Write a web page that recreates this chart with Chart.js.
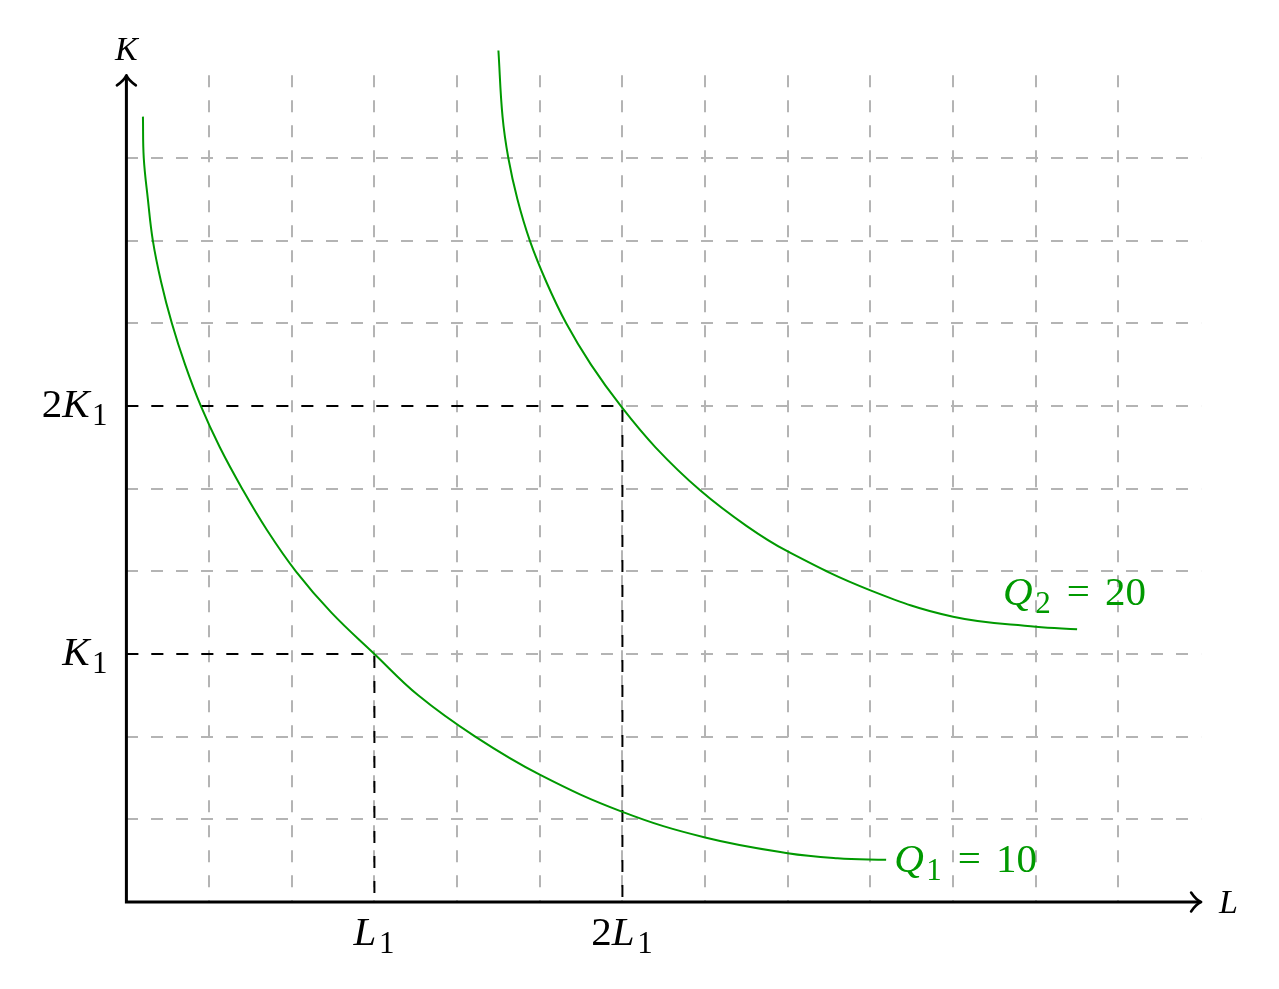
<!DOCTYPE html>
<html>
<head>
<meta charset="utf-8">
<script src="https://cdn.jsdelivr.net/npm/chart.js@4.4.1/dist/chart.umd.min.js"></script>
<style>
  html, body { margin: 0; padding: 0; background: #ffffff; }
  #wrap { width: 1279px; height: 989px; }
</style>
</head>
<body>
<div id="wrap"><canvas id="c" width="1279" height="989"></canvas></div>
<script>
// ---- data ----
const xMax = 13;           // L axis extent (grid units)
const yMax = 10;           // K axis extent (grid units)

const q1L = [0.20, 0.21, 0.26, 0.32, 0.42, 0.55, 0.71, 0.90, 1.13, 1.40, 1.70, 2.05, 2.48, 3.00, 3.53, 4.22, 5.00, 6.00, 7.00, 8.00, 8.60, 9.19];
const q1K = [9.50, 9.00, 8.50, 8.00, 7.50, 7.00, 6.50, 6.00, 5.50, 5.00, 4.50, 4.00, 3.50, 3.00, 2.50, 2.00, 1.54, 1.09, 0.78, 0.59, 0.53, 0.51];

const q2L = [4.50, 4.55, 4.62, 4.73, 4.88, 5.08, 5.32, 5.62, 5.98, 6.40, 6.94, 7.50, 8.00, 9.00, 10.00, 11.00, 11.50];
const q2K = [10.30, 9.50, 9.00, 8.50, 8.00, 7.50, 7.00, 6.50, 6.00, 5.50, 4.98, 4.55, 4.24, 3.77, 3.45, 3.33, 3.30];

const curveLabels = ['Q_1 = 10', 'Q_2 = 20'];

// reference (dashed) levels
const refL = [3, 6];
const refK = [3, 6];

// tick labels
const xTickValues = [3, 6];
const xTickLabels = ['L_1', '2L_1'];
const yTickValues = [3, 6];
const yTickLabels = ['K_1', '2K_1'];

const xAxisTitle = 'L';
const yAxisTitle = 'K';

// ---- styles ----
const GREEN = '#009900';
const GRID = 'rgb(180,180,180)';
const SERIF = '"Liberation Serif", "DejaVu Serif", serif';

function pts(xs, ys) { return xs.map((x, i) => ({ x: x, y: ys[i] })); }
function refPts(i) { return [{ x: 0, y: refK[i] }, { x: refL[i], y: refK[i] }, { x: refL[i], y: 0 }]; }

// simple math-like text: letters italic, digits/symbols upright, _x subscript
function mathRuns(str) {
  const runs = [];
  for (let i = 0; i < str.length; i++) {
    const ch = str[i];
    if (ch === '_') { runs.push({ t: str[i + 1], sub: true, it: false }); i++; continue; }
    runs.push({ t: ch, sub: false, it: /[A-Za-z]/.test(ch), sp: ch === ' ' });
  }
  return runs;
}
function runFont(r, size) {
  const s = r.sub ? Math.round(size * 0.76) : size;
  return (r.it ? 'italic ' : '') + s + 'px ' + SERIF;
}
function runAdvance(ctx, r, size) {
  if (r.sp) return size * 0.37;
  ctx.font = runFont(r, size);
  return ctx.measureText(r.t).width + (r.it ? size * 0.06 : 0) + (r.sub ? size * 0.02 : 0);
}
function mathWidth(ctx, str, size) {
  let w = 0;
  for (const r of mathRuns(str)) w += runAdvance(ctx, r, size);
  return w;
}
function drawMath(ctx, str, x, baseline, size, align, color) {
  const w = mathWidth(ctx, str, size);
  let cx = align === 'center' ? x - w / 2 : align === 'right' ? x - w : x;
  ctx.fillStyle = color;
  ctx.textBaseline = 'alphabetic';
  ctx.textAlign = 'left';
  for (const r of mathRuns(str)) {
    const adv = runAdvance(ctx, r, size);
    if (!r.sp) {
      ctx.font = runFont(r, size);
      ctx.fillText(r.t, cx, baseline + (r.sub ? size * 0.2 : 0));
    }
    cx += adv;
  }
}

const decor = {
  id: 'decor',
  afterDatasetsDraw(chart) {
    const ctx = chart.ctx;
    const xs = chart.scales.x, ys = chart.scales.y;
    const x0 = xs.getPixelForValue(0), y0 = ys.getPixelForValue(0);
    const xe = xs.getPixelForValue(xMax), ye = ys.getPixelForValue(yMax);
    ctx.save();
    // axes
    ctx.strokeStyle = '#000';
    ctx.lineWidth = 3;
    ctx.lineCap = 'butt';
    ctx.beginPath();
    ctx.moveTo(x0, y0 + 1.5); ctx.lineTo(x0, ye + 1);
    ctx.moveTo(x0 - 1.5, y0); ctx.lineTo(xe - 1, y0);
    ctx.stroke();
    // arrow heads
    ctx.lineWidth = 2.6;
    ctx.lineCap = 'round';
    ctx.lineJoin = 'round';
    ctx.beginPath();
    ctx.moveTo(x0 - 9.5, ye + 10);
    ctx.quadraticCurveTo(x0 - 2, ye + 5, x0, ye);
    ctx.quadraticCurveTo(x0 + 2, ye + 5, x0 + 9.5, ye + 10);
    ctx.moveTo(xe - 10, y0 - 9.5);
    ctx.quadraticCurveTo(xe - 5, y0 - 2, xe, y0);
    ctx.quadraticCurveTo(xe - 5, y0 + 2, xe - 10, y0 + 9.5);
    ctx.stroke();

    // axis titles
    drawMath(ctx, yAxisTitle, x0 + 1, ye - 15, 34, 'center', '#000');
    drawMath(ctx, xAxisTitle, xe + 18, y0 + 11, 34, 'left', '#000');

    // tick labels
    xTickValues.forEach((v, i) => {
      drawMath(ctx, xTickLabels[i], xs.getPixelForValue(v), y0 + 43, 41, 'center', '#000');
    });
    yTickValues.forEach((v, i) => {
      drawMath(ctx, yTickLabels[i], x0 - 18, ys.getPixelForValue(v) + 11, 41, 'right', '#000');
    });

    // curve labels
    const e1x = xs.getPixelForValue(q1L[q1L.length - 1]);
    const e1y = ys.getPixelForValue(q1K[q1K.length - 1]);
    drawMath(ctx, curveLabels[0], e1x + 8, e1y + 12, 41, 'left', GREEN);
    const e2x = xs.getPixelForValue(q2L[q2L.length - 1]);
    const e2y = ys.getPixelForValue(q2K[q2K.length - 1]);
    drawMath(ctx, curveLabels[1], e2x - 74, e2y - 24, 41, 'left', GREEN);
    ctx.restore();
  }
};

const gridColor = (max) => (c) => {
  const v = c.tick ? c.tick.value : null;
  return (v === 0 || v === max) ? 'rgba(0,0,0,0)' : GRID;
};

new Chart(document.getElementById('c'), {
  type: 'line',
  data: {
    datasets: [
      { data: pts(q1L, q1K), borderColor: GREEN, borderWidth: 2, pointRadius: 0, tension: 0.4, clip: false, fill: false },
      { data: pts(q2L, q2K), borderColor: GREEN, borderWidth: 2, pointRadius: 0, tension: 0.4, clip: false, fill: false },
      { data: refPts(0), borderColor: '#000', borderWidth: 2, borderDash: [12, 13], pointRadius: 0, tension: 0, fill: false },
      { data: refPts(1), borderColor: '#000', borderWidth: 2, borderDash: [12, 13], pointRadius: 0, tension: 0, fill: false }
    ]
  },
  options: {
    responsive: false,
    animation: false,
    events: [],
    layout: { padding: { left: 126.4, right: 77.9, top: 75.3, bottom: 87 } },
    plugins: { legend: { display: false }, tooltip: { enabled: false } },
    scales: {
      x: {
        type: 'linear', min: 0, max: xMax,
        ticks: { display: false, stepSize: 1 },
        grid: { color: gridColor(xMax), lineWidth: 2, drawTicks: false, tickLength: 0 },
        border: { display: false, dash: [12, 13] }
      },
      y: {
        type: 'linear', min: 0, max: yMax,
        ticks: { display: false, stepSize: 1 },
        grid: { color: gridColor(yMax), lineWidth: 2, drawTicks: false, tickLength: 0 },
        border: { display: false, dash: [12, 13] }
      }
    }
  },
  plugins: [decor]
});
</script>
</body>
</html>
